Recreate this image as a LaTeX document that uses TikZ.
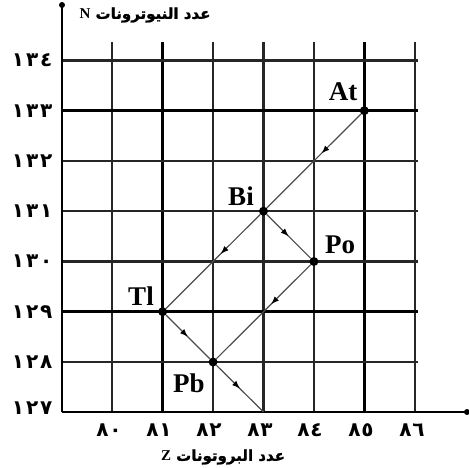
\documentclass[tikz,border=0pt]{standalone}
\usepackage{fontspec}
\setmainfont{Liberation Serif}
\newfontfamily\arabicfont[Script=Arabic]{DejaVu Sans}
\newfontfamily\arabicheavy[Script=Arabic,FakeBold=1.5]{DejaVu Sans Bold}
\TeXXeTstate=1
\usetikzlibrary{arrows.meta,decorations.markings}
\begin{document}
\begin{tikzpicture}[x=1pt,y=-1pt,
  gridline/.style={line width=2.1pt,black!85},
  heavyline/.style={line width=2.9pt,black},
  axisline/.style={line width=2.9pt,black},
  nuc/.style={circle,fill=black,inner sep=0pt,minimum size=9pt},
  elem/.style={font=\fontsize{27}{27}\selectfont\bfseries,fill=white,inner sep=1pt},
  ylab/.style={anchor=east,font=\arabicfont\bfseries\fontsize{20}{20}\selectfont},
  xlab/.style={font=\arabicfont\bfseries\fontsize{20}{20}\selectfont},
  axtitle/.style={font=\arabicheavy\fontsize{15}{15}\selectfont},
  decay/.style={line width=1.2pt,draw=black!70,postaction={decorate},
    decoration={markings,mark=at position #1 with {\arrow[black]{Latex[length=8pt,width=6pt]}}}}
]
\useasboundingbox (0,0) rectangle (469,468);
% grid verticals Z=80..86
\foreach \xx in {112.3,213.1,263.5,313.9,414.7}
  \draw[gridline] (\xx,412) -- (\xx,42);
\foreach \xx in {162.7,364.3}
  \draw[heavyline] (\xx,412) -- (\xx,42);
% grid horizontals N=128..134
\foreach \yy in {362,261.5,211.2,161,60.5}
  \draw[gridline] (62,\yy) -- (418,\yy);
\foreach \yy in {311.7,110.7}
  \draw[heavyline] (62,\yy) -- (418,\yy);
% axes
\coordinate (O) at (62,412);
\coordinate (Ytop) at (62,5);
\coordinate (Xend) at (467,412);
\draw[axisline] (O) -- (Ytop);
\draw[axisline] (O) -- (Xend);
\fill (Ytop) circle (3pt);
\fill (Xend) circle (3pt);
% axis numbers
\node[ylab] (n134) at (56,60.5) {١\kern2pt٣\kern2pt٤};
\node[ylab] (n133) at (56,110.7) {١\kern2pt٣\kern2pt٣};
\node[ylab] (n132) at (56,161) {١\kern2pt٣\kern2pt٢};
\node[ylab] (n131) at (56,211.2) {١\kern2pt٣\kern2pt١};
\node[ylab] (n130) at (56,261.5) {١\kern2pt٣\kern2pt٠};
\node[ylab] (n129) at (56,311.7) {١\kern2pt٢\kern2pt٩};
\node[ylab] (n128) at (56,362) {١\kern2pt٢\kern2pt٨};
\node[ylab] (n127) at (56,408) {١\kern2pt٢\kern2pt٧};
\node[xlab] (z80) at (109,430) {٨\kern1pt٠};
\node[xlab] (z81) at (159,430) {٨\kern1pt١};
\node[xlab] (z82) at (209,430) {٨\kern1pt٢};
\node[xlab] (z83) at (260,430) {٨\kern1pt٣};
\node[xlab] (z84) at (310,430) {٨\kern1pt٤};
\node[xlab] (z85) at (361,430) {٨\kern1pt٥};
\node[xlab] (z86) at (412,430) {٨\kern1pt٦};
\node[axtitle] (ytitle) at (145,15) {\beginR عدد النيوترونات \beginL{\rmfamily\bfseries N}\endL\endR};
\node[axtitle] (xtitle) at (223,457) {\beginR عدد البروتونات \beginL{\rmfamily\bfseries Z}\endL\endR};
% nuclides
\node[nuc] (At) at (364.3,110.7) {};
\node[nuc] (Bi) at (263.5,211.2) {};
\node[nuc] (Po) at (313.9,261.5) {};
\node[nuc] (Tl) at (162.7,311.7) {};
\node[nuc] (Pb) at (213.1,362) {};
\coordinate (E) at (263.5,412);
% labels
\node[elem] (lAt) at (343,92) {At};
\node[elem] (lBi) at (241,196) {Bi};
\node[elem] (lPo) at (340,245) {Po};
\node[elem] (lTl) at (141,296) {Tl};
\node[elem] (lPb) at (189,383) {Pb};
% decays
\draw[decay=0.42] (At) -- (Bi);
\draw[decay=0.5] (Bi) -- (Po);
\draw[decay=0.42] (Bi) -- (Tl);
\draw[decay=0.42] (Po) -- (Pb);
\draw[decay=0.5] (Tl) -- (Pb);
\draw[decay=0.5] (Pb) -- (E);
\end{tikzpicture}
\end{document}
